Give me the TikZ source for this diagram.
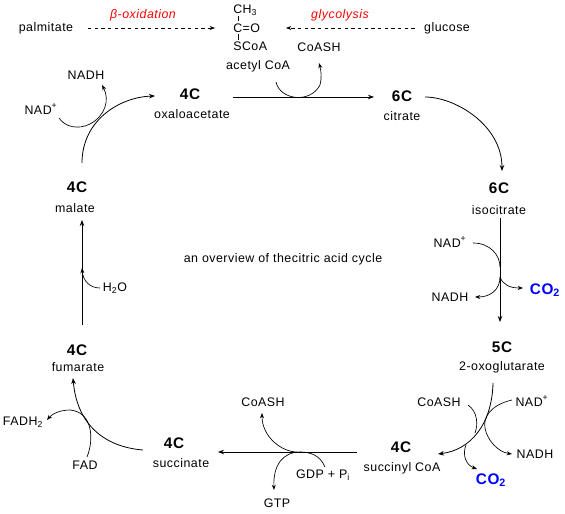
\documentclass[tikz,border=0pt]{standalone}
\usepackage{fontspec}
\setmainfont{Liberation Sans}[LetterSpace=4]
\usetikzlibrary{arrows.meta}
\begin{document}
\begin{tikzpicture}[x=0.75pt,y=-0.75pt,
  lbl/.style={font=\fontsize{9.3}{10}\selectfont, inner sep=0pt},
  cnum/.style={font=\fontsize{11.5}{12}\selectfont\bfseries, inner sep=0pt},
  pathway/.style={text=red, font=\fontsize{9.3}{10}\selectfont\itshape, inner sep=0pt},
  co2/.style={font=\fontsize{11.5}{12}\selectfont\bfseries, text=blue, inner sep=0pt},
  conn/.style={line width=0.6pt, -{Stealth[length=4.5pt,width=3.4pt]}},
  side/.style={line width=0.5pt},
  sidearr/.style={line width=0.5pt, -{Stealth[length=4pt,width=3pt]}},
  feed/.style={line width=0.5pt, dash pattern=on 2.5pt off 2.5pt, -{Stealth[length=4pt,width=3pt]}}
]
\useasboundingbox (0,0) rectangle (565,514);

% ---- feeding pathways ----
\node[lbl] (palm) at (46,28) {palmitate};
\node[pathway] (boxid) at (143,15) {β-oxidation};
\node[lbl] (gluc) at (447,28) {glucose};
\node[pathway] (glyc) at (340,15) {glycolysis};
\node[lbl, anchor=west] (ch3) at (233,10) {CH\textsubscript{3}};
\node[lbl, anchor=west] (cdo) at (233,28) {C=O};
\node[lbl, anchor=west] (scoa) at (233,46) {SCoA};
\node[lbl] (acoa) at (258,66) {acetyl CoA};
\node[lbl] (coash1) at (319,47) {CoASH};
\coordinate (bA) at (238,16); \coordinate (bB) at (238,21);
\coordinate (bC) at (238,34); \coordinate (bD) at (238,40);
\draw[side] (bA) -- (bB);
\draw[side] (bC) -- (bD);
\coordinate (palmEnd) at (215,28);
\coordinate (glucEnd) at (286,28);
\draw[feed] ([xshift=11pt]palm.east) -- (palmEnd);
\draw[feed] ([xshift=-7pt]gluc.west) -- (glucEnd);

% ---- cycle intermediates ----
\node[cnum] (oxC) at (190,94) {4C};
\node[lbl] (oxN) at (192,114) {oxaloacetate};
\node[cnum] (ciC) at (402,96) {6C};
\node[lbl] (ciN) at (402,116) {citrate};
\node[cnum] (isC) at (499,188) {6C};
\node[lbl] (isN) at (499,210) {isocitrate};
\node[cnum] (ogC) at (502,347) {5C};
\node[lbl] (ogN) at (502,367) {2-oxoglutarate};
\node[cnum] (scC) at (401,447) {4C};
\node[lbl] (scN) at (402,468) {succinyl CoA};
\node[cnum] (suC) at (174,443) {4C};
\node[lbl] (suN) at (181,463) {succinate};
\node[cnum] (fuC) at (77,350) {4C};
\node[lbl] (fuN) at (78,367) {fumarate};
\node[cnum] (maC) at (77,187) {4C};
\node[lbl] (maN) at (75,208) {malate};

\node[lbl] (title) at (283,259) {an overview of thecitric acid cycle};

% ---- cofactors ----
\node[lbl] (nadA) at (450,242) {NAD\textsuperscript{+}};
\node[lbl] (nadhA) at (450,297) {NADH};
\node[co2] (co2A) at (545,290) {CO\textsubscript{2}};
\node[lbl] (coash2) at (439,402) {CoASH};
\node[lbl] (nadB) at (532,401) {NAD\textsuperscript{+}};
\node[lbl] (nadhB) at (535,454) {NADH};
\node[co2] (co2B) at (491,480) {CO\textsubscript{2}};
\node[lbl] (coash3) at (263,402) {CoASH};
\node[lbl] (gdp) at (323,475) {GDP + P\textsubscript{i}};
\node[lbl] (gtp) at (277,503) {GTP};
\node[lbl] (fadh) at (23,422) {FADH\textsubscript{2}};
\node[lbl] (fad) at (85,465) {FAD};
\node[lbl] (h2o) at (115,288) {H\textsubscript{2}O};
\node[lbl] (nadC) at (41,109) {NAD\textsuperscript{+}};
\node[lbl] (nadhC) at (86,75) {NADH};

% ---- step 1: oxaloacetate -> citrate ----
\coordinate (s1a) at (233,97); \coordinate (s1b) at (374,97);
\draw[conn] (s1a) -- (s1b);
\coordinate (acS) at (276,82); \coordinate (acE) at (319,63);
\draw[sidearr] (acS) .. controls (280,100) and (310,104) .. (320,85)
   .. controls (322,78) and (321,70) .. (acE);

% ---- step 2: citrate -> isocitrate ----
\coordinate (s2a) at (425,97); \coordinate (s2b) at (502,171);
\draw[conn] (s2a) .. controls (455,97) and (502,125) .. (s2b);

% ---- step 3: isocitrate -> 2-oxoglutarate ----
\coordinate (s3a) at (500,218); \coordinate (s3b) at (500,322);
\draw[conn] (s3a) -- (s3b);
\coordinate (s3j1) at (500,267); \coordinate (s3j2) at (500,277);
\draw[side] (473,243) .. controls (490,243) and (500,255) .. (s3j1);
\draw[sidearr] (s3j2) .. controls (500,290) and (490,297) .. (475,297);
\draw[sidearr] (s3j2) .. controls (503,285) and (510,288) .. (523,288);

% ---- step 4: 2-oxoglutarate -> succinyl CoA ----
\coordinate (s4a) at (493,383); \coordinate (s4b) at (438,454);
\draw[conn] (s4a) .. controls (492,425) and (470,450) .. (s4b);
\draw[side] (468,405) .. controls (478,412) and (478,425) .. (475,433);
\draw[sidearr] (512,400) .. controls (490,405) and (483,418) .. (485,428)
   .. controls (487,440) and (498,452) .. (512,454);
\draw[sidearr] (466,445) .. controls (462,455) and (466,465) .. (477,469);

% ---- step 5: succinyl CoA -> succinate ----
\coordinate (s5a) at (357,452); \coordinate (s5b) at (218,452);
\draw[conn] (s5a) -- (s5b);
\draw[sidearr] (297,452) .. controls (282,452) and (262,437) .. (262,413);
\draw[side] (325,467) .. controls (320,455) and (310,452) .. (300,452);
\draw[sidearr] (300,452) .. controls (283,452) and (273,465) .. (274,490);

% ---- step 6: succinate -> fumarate ----
\coordinate (s6a) at (143,450); \coordinate (s6b) at (73,378);
\draw[conn] (s6a) .. controls (105,447) and (77,425) .. (s6b);
\draw[sidearr] (87,457) .. controls (94,440) and (93,412) .. (70,410)
   .. controls (60,410) and (52,414) .. (47,420);

% ---- step 7: fumarate -> malate ----
\coordinate (s7a) at (82,325); \coordinate (s7b) at (82,220);
\draw[conn] (s7a) -- (s7b);
\draw[sidearr] (100,288) .. controls (90,288) and (83,281) .. (82,268);

% ---- step 8: malate -> oxaloacetate ----
\coordinate (s8a) at (82,163); \coordinate (s8b) at (155,96);
\draw[conn] (s8a) .. controls (82,120) and (120,97) .. (s8b);
\draw[sidearr] (59,118) .. controls (65,127) and (78,130) .. (90,124)
   .. controls (105,116) and (110,100) .. (102,85);
\end{tikzpicture}
\end{document}
